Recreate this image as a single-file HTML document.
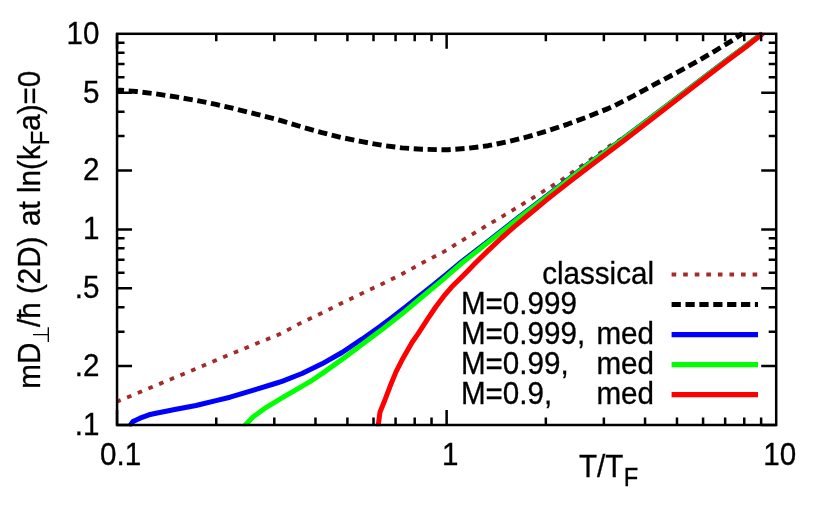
<!DOCTYPE html>
<html><head><meta charset="utf-8"><title>plot</title>
<style>html,body{margin:0;padding:0;background:#fff;overflow:hidden}svg{display:block}text{font-family:"Liberation Sans",sans-serif;fill:#000}</style>
</head><body>
<svg width="830" height="521" viewBox="0 0 830 521" style="will-change:transform">
<rect x="0" y="0" width="830" height="521" fill="#ffffff"/>
<clipPath id="c"><rect x="117.05" y="31.799999999999997" width="659.1500000000001" height="394.5"/></clipPath>
<g clip-path="url(#c)" fill="none" stroke-linejoin="round">
<path d="M114.00,402.90 L118.00,401.20 L136.00,393.82 L156.00,385.44 L176.00,377.05 L196.00,368.67 L216.00,360.29 L236.00,351.96 L256.00,343.76 L276.00,335.76 L282.00,333.02 L299.00,323.91 L322.00,312.94 L342.00,302.96 L362.00,293.39 L382.00,284.01 L402.00,274.04 L422.00,263.06 L442.00,252.69 L448.00,249.50 L453.00,246.08 L468.00,236.96 L488.00,224.80 L508.00,213.05 L528.00,200.89 L541.50,192.49 L562.20,179.49 L580.20,166.90 L600.20,152.90 L610.20,145.65 L635.92,130.00 L653.97,116.20 L691.20,88.00 L726.25,61.30 L745.58,47.00 L762.14,34.00" stroke="#a52a2a" stroke-width="3.8" stroke-dasharray="4.63,6.94" stroke-dashoffset="-2.6"/>
<path d="M114.00,89.50 L118.00,90.01 L136.00,91.45 L156.00,93.89 L176.00,96.94 L196.00,100.38 L216.00,104.42 L236.00,109.07 L256.00,114.11 L276.00,119.13 L282.00,120.94 L302.00,126.97 L322.00,132.60 L342.00,137.62 L362.00,141.65 L382.00,145.28 L402.00,147.90 L422.00,149.30 L442.00,149.70 L448.00,149.70 L468.00,148.30 L488.00,145.70 L508.00,141.69 L528.00,136.68 L548.00,130.67 L568.00,124.05 L588.00,116.64 L608.00,108.63 L614.00,105.92 L634.00,95.61 L654.00,84.69 L674.00,74.13 L694.00,63.17 L714.00,51.51 L734.00,39.33 L742.40,33.50" stroke="#000" stroke-width="4.9" stroke-dasharray="9.25,4.63" stroke-dashoffset="-0.8"/>
<path d="M129.50,426.50 L133.00,421.50 L140.00,418.15 L149.00,414.80 L156.00,413.21 L176.00,409.25 L196.00,405.49 L200.00,404.50 L216.00,400.66 L230.00,397.20 L236.00,395.46 L256.00,389.46 L276.00,383.26 L282.00,381.32 L302.00,373.52 L322.00,363.84 L342.00,352.53 L362.00,339.20 L380.00,326.60 L390.12,319.00 L405.61,307.00 L419.45,296.00 L433.37,285.00 L446.87,274.00 L460.96,262.20 L487.87,241.50 L517.88,218.00 L549.28,194.00 L585.45,166.00 L622.07,139.60 L652.76,116.20 L690.10,88.00 L725.19,61.30 L744.54,47.00 L761.89,33.40" stroke="#0000ff" stroke-width="5.0"/>
<path d="M242.60,428.00 L246.00,424.30 L253.00,417.00 L266.30,407.30 L279.50,399.40 L292.80,391.60 L310.00,381.70 L322.00,373.60 L342.00,359.40 L362.00,344.60 L382.00,329.60 L402.00,313.80 L422.00,297.00 L442.00,280.30 L448.00,275.20 L461.90,263.00 L489.20,241.50 L519.00,218.00 L550.20,194.00 L586.15,166.00 L622.56,139.60 L653.17,116.20 L690.40,88.00 L725.45,61.30 L744.78,47.00 L762.11,33.40" stroke="#00ff00" stroke-width="5.0"/>
<path d="M378.00,428.00 L378.40,424.02 L380.00,412.09 L384.00,402.27 L390.00,386.55 L396.00,371.82 L402.00,360.09 L412.00,342.53 L418.00,333.80 L423.00,326.20 L427.70,318.90 L435.70,307.00 L443.60,296.40 L451.60,287.10 L459.50,279.20 L467.50,271.20 L475.40,263.00 L488.30,250.40 L501.50,238.00 L514.70,226.40 L528.35,215.00 L546.00,200.30 L557.05,191.60 L575.00,177.50 L596.40,161.20 L625.30,139.60 L655.30,116.20 L691.80,88.00 L726.60,61.30 L745.80,47.00 L763.00,33.40" stroke="#ff0000" stroke-width="5.0"/>
</g>
<g stroke="#000" stroke-width="2.5" fill="none">
<path d="M117.05,425.0 V410.00 M117.05,33.8 V48.80"/>
<path d="M216.26,425.0 V417.50 M216.26,33.8 V41.30"/>
<path d="M274.30,425.0 V417.50 M274.30,33.8 V41.30"/>
<path d="M315.47,425.0 V417.50 M315.47,33.8 V41.30"/>
<path d="M347.41,425.0 V417.50 M347.41,33.8 V41.30"/>
<path d="M373.51,425.0 V417.50 M373.51,33.8 V41.30"/>
<path d="M395.57,425.0 V417.50 M395.57,33.8 V41.30"/>
<path d="M414.69,425.0 V417.50 M414.69,33.8 V41.30"/>
<path d="M431.54,425.0 V417.50 M431.54,33.8 V41.30"/>
<path d="M446.63,425.0 V410.00 M446.63,33.8 V48.80"/>
<path d="M545.84,425.0 V417.50 M545.84,33.8 V41.30"/>
<path d="M603.87,425.0 V417.50 M603.87,33.8 V41.30"/>
<path d="M645.05,425.0 V417.50 M645.05,33.8 V41.30"/>
<path d="M676.99,425.0 V417.50 M676.99,33.8 V41.30"/>
<path d="M703.08,425.0 V417.50 M703.08,33.8 V41.30"/>
<path d="M725.15,425.0 V417.50 M725.15,33.8 V41.30"/>
<path d="M744.26,425.0 V417.50 M744.26,33.8 V41.30"/>
<path d="M761.12,425.0 V417.50 M761.12,33.8 V41.30"/>
<path d="M117.05,425.00 H132.05 M776.2,425.00 H761.20"/>
<path d="M117.05,366.12 H132.05 M776.2,366.12 H761.20"/>
<path d="M117.05,331.68 H124.55 M776.2,331.68 H768.70"/>
<path d="M117.05,307.24 H124.55 M776.2,307.24 H768.70"/>
<path d="M117.05,288.28 H132.05 M776.2,288.28 H761.20"/>
<path d="M117.05,272.79 H124.55 M776.2,272.79 H768.70"/>
<path d="M117.05,259.70 H124.55 M776.2,259.70 H768.70"/>
<path d="M117.05,248.36 H124.55 M776.2,248.36 H768.70"/>
<path d="M117.05,238.35 H124.55 M776.2,238.35 H768.70"/>
<path d="M117.05,229.40 H132.05 M776.2,229.40 H761.20"/>
<path d="M117.05,170.52 H132.05 M776.2,170.52 H761.20"/>
<path d="M117.05,136.08 H124.55 M776.2,136.08 H768.70"/>
<path d="M117.05,111.64 H124.55 M776.2,111.64 H768.70"/>
<path d="M117.05,92.68 H132.05 M776.2,92.68 H761.20"/>
<path d="M117.05,77.19 H124.55 M776.2,77.19 H768.70"/>
<path d="M117.05,64.10 H124.55 M776.2,64.10 H768.70"/>
<path d="M117.05,52.76 H124.55 M776.2,52.76 H768.70"/>
<path d="M117.05,42.75 H124.55 M776.2,42.75 H768.70"/>
</g>
<rect x="117.05" y="33.8" width="659.15" height="391.20" fill="none" stroke="#000" stroke-width="2.5"/>
<text transform="translate(99.40,43.70) scale(1,1.06)" font-size="29.6" text-anchor="end" stroke="#000" stroke-width="0.3">10</text>
<text transform="translate(99.40,102.58) scale(1,1.06)" font-size="29.6" text-anchor="end" stroke="#000" stroke-width="0.3">5</text>
<text transform="translate(99.40,180.42) scale(1,1.06)" font-size="29.6" text-anchor="end" stroke="#000" stroke-width="0.3">2</text>
<text transform="translate(99.40,239.30) scale(1,1.06)" font-size="29.6" text-anchor="end" stroke="#000" stroke-width="0.3">1</text>
<text transform="translate(99.40,298.18) scale(1,1.06)" font-size="29.6" text-anchor="end" stroke="#000" stroke-width="0.3">.5</text>
<text transform="translate(99.40,376.02) scale(1,1.06)" font-size="29.6" text-anchor="end" stroke="#000" stroke-width="0.3">.2</text>
<text transform="translate(99.40,434.90) scale(1,1.06)" font-size="29.6" text-anchor="end" stroke="#000" stroke-width="0.3">.1</text>
<text transform="translate(120.65,464.70) scale(1,1.06)" font-size="29.6" text-anchor="middle" stroke="#000" stroke-width="0.3">0.1</text>
<text transform="translate(450.23,464.70) scale(1,1.06)" font-size="29.6" text-anchor="middle" stroke="#000" stroke-width="0.3">1</text>
<text transform="translate(779.80,464.70) scale(1,1.06)" font-size="29.6" text-anchor="middle" stroke="#000" stroke-width="0.3">10</text>
<text transform="translate(578.90,476.90) scale(1,1.06)" font-size="29.6" text-anchor="start" stroke="#000" stroke-width="0.3">T/T<tspan dx="0.4" dy="8.40" font-size="23.7">F</tspan></text>
<text transform="translate(39.60,388.70) rotate(-90) scale(1,1.06)" font-size="29.6" text-anchor="start" stroke="#000" stroke-width="0.3">mD</text>
<g transform="translate(39.6,388.7) rotate(-90)"><path d="M46.8,8.7 H61.4 M54.1,8.7 V-6.6" stroke="#000" stroke-width="1.35" fill="none"/></g>
<text transform="translate(39.60,327.00) rotate(-90) scale(1,1.06)" font-size="29.6" text-anchor="start" stroke="#000" stroke-width="0.3">/&#295; (2D)</text>
<text transform="translate(39.60,225.91) rotate(-90) scale(1,1.06)" font-size="29.6" text-anchor="start" stroke="#000" stroke-width="0.3">at ln(k<tspan dy="8.40" font-size="23.7">F</tspan><tspan dy="-8.40">a)=0</tspan></text>
<text transform="translate(654.00,284.25) scale(1,1.06)" font-size="29.6" text-anchor="end" stroke="#000" stroke-width="0.3">classical</text>
<path d="M671.6,274.45 H758" fill="none" stroke="#a52a2a" stroke-width="3.9" stroke-dasharray="4.63,6.94"/>
<text transform="translate(460.90,314.30) scale(1,1.06)" font-size="29.6" text-anchor="start" stroke="#000" stroke-width="0.3">M=0.999</text>
<path d="M671.6,304.50 H758" fill="none" stroke="#000" stroke-width="5.1" stroke-dasharray="9.25,4.63"/>
<text transform="translate(460.90,344.35) scale(1,1.06)" font-size="29.6" text-anchor="start" stroke="#000" stroke-width="0.3">M=0.999,</text>
<text transform="translate(654.00,344.35) scale(1,1.06)" font-size="29.6" text-anchor="end" stroke="#000" stroke-width="0.3">med</text>
<path d="M671.6,334.55 H758" fill="none" stroke="#0000ff" stroke-width="5.2"/>
<text transform="translate(460.90,374.40) scale(1,1.06)" font-size="29.6" text-anchor="start" stroke="#000" stroke-width="0.3">M=0.99,</text>
<text transform="translate(654.00,374.40) scale(1,1.06)" font-size="29.6" text-anchor="end" stroke="#000" stroke-width="0.3">med</text>
<path d="M671.6,364.60 H758" fill="none" stroke="#00ff00" stroke-width="5.2"/>
<text transform="translate(460.90,404.45) scale(1,1.06)" font-size="29.6" text-anchor="start" stroke="#000" stroke-width="0.3">M=0.9,</text>
<text transform="translate(654.00,404.45) scale(1,1.06)" font-size="29.6" text-anchor="end" stroke="#000" stroke-width="0.3">med</text>
<path d="M671.6,394.65 H758" fill="none" stroke="#ff0000" stroke-width="5.2"/>
</svg></body></html>
